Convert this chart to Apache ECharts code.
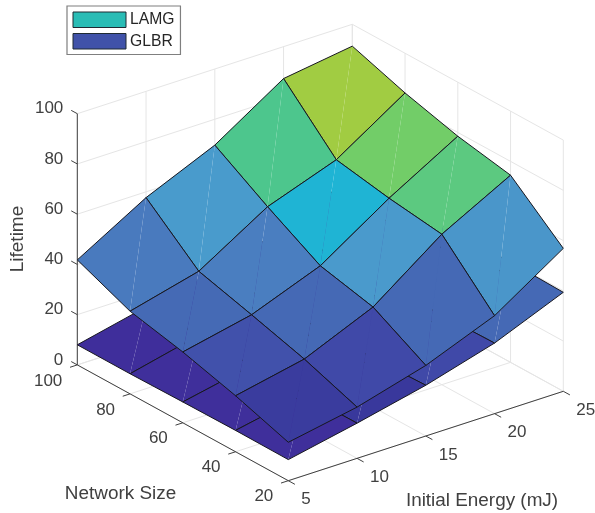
<!DOCTYPE html>
<html>
<head>
<meta charset="utf-8">
<style>html,body{margin:0;padding:0;background:#fff}#c{width:595px;height:513px}</style>
<script src="https://cdn.jsdelivr.net/npm/echarts@6/dist/echarts.min.js"></script>
</head>
<body>
<div id="c"></div>
<script>
// ---- data ----
const energyTicks = [5, 10, 15, 20, 25];
const networkTicks = [20, 40, 60, 80, 100];
const lifetimeTicks = [0, 20, 40, 60, 80, 100];
// rows: energy index, columns: network index
const lamgE5  = [15.3, 22.3, 28.2, 32.9, 41.8];
const lamgE10 = [20.4, 28.0, 34.1, 39.9, 57.7];
const lamgE15 = [28.1, 39.8, 44.7, 56.7, 69.7];
const lamgE20 = [39.0, 59.9, 62.7, 66.5, 87.3];
const lamgE25 = [56.9, 74.5, 78.5, 84.2, 91.3];
const glbrE5  = [8.4, 8.5, 8.3, 8.0, 8.0];
const glbrE10 = [14.0, 13.9, 13.9, 14.4, 14.2];
const glbrE15 = [20.2, 19.5, 19.5, 19.5, 19.5];
const glbrE20 = [28.1, 27.7, 27.5, 27.5, 27.5];
const glbrE25 = [39.4, 39.9, 39.5, 39.5, 39.5];
const lamg = [lamgE5, lamgE10, lamgE15, lamgE20, lamgE25];
const glbr = [glbrE5, glbrE10, glbrE15, glbrE20, glbrE25];

// colour scale of the surface height (lifetime -> colour)
const colorScale = [
  [8, '#3f2e9b'], [14, '#39389c'], [20.3, '#4049a8'], [28, '#4569b5'], [34, '#4a7ec0'],
  [39.8, '#4a9acc'], [44.7, '#1fb4d4'], [56.7, '#4dc68d'], [60, '#5cc980'], [62.7, '#72cd68'], [66.5, '#a1cc42']
];
function hex(c) { return [1, 3, 5].map(k => parseInt(c.substr(k, 2), 16)); }
function colorOf(z) {
  if (z <= colorScale[0][0]) return colorScale[0][1];
  for (let k = 1; k < colorScale.length; k++) {
    if (z <= colorScale[k][0]) {
      const t = (z - colorScale[k - 1][0]) / (colorScale[k][0] - colorScale[k - 1][0]);
      const a = hex(colorScale[k - 1][1]), b = hex(colorScale[k][1]);
      return 'rgb(' + a.map((v, n) => Math.round(v + (b[n] - v) * t)).join(',') + ')';
    }
  }
  return colorScale[colorScale.length - 1][1];
}

// ---- orthographic view of the 3D box ----
function project(e, n, z) {
  return [
    288.3 + (e - 5) * 13.75 - (n - 20) * 2.6375,
    480.7 - (e - 5) * 4.47 - (n - 20) * 1.4475 - z * 2.512
  ];
}
const eMin = 5, eMax = 25, nMin = 20, nMax = 100, zMin = 0, zMax = 100;
const GRID = '#e5e5e5', AXIS = '#404040', TEXT = '#404040', FONT = '"Liberation Sans", Arial, sans-serif';

// ---- segments of the box: walls, floor, axes, ticks ----
const gridSegs = [], axisSegs = [];
energyTicks.forEach(e => {
  gridSegs.push([e, nMin, 0, e, nMax, 0]);
  gridSegs.push([e, nMax, 0, e, nMax, zMax]);
  axisSegs.push([e, nMin, 0, e, nMin - 2.5, 0]);
});
networkTicks.forEach(n => {
  gridSegs.push([eMin, n, 0, eMax, n, 0]);
  gridSegs.push([eMax, n, 0, eMax, n, zMax]);
  axisSegs.push([eMin, n, 0, eMin - 0.53, n, 0]);
});
lifetimeTicks.forEach(z => {
  gridSegs.push([eMin, nMax, z, eMax, nMax, z]);
  gridSegs.push([eMax, nMax, z, eMax, nMin, z]);
  axisSegs.push([eMin, nMax, z, eMin, nMax + 2.3, z]);
});
axisSegs.push([eMin, nMax, zMin, eMin, nMax, zMax]);
axisSegs.push([eMin, nMax, 0, eMin, nMin, 0]);
axisSegs.push([eMin, nMin, 0, eMax, nMin, 0]);

function segmentSeries(segs, color, z) {
  return {
    type: 'custom', coordinateSystem: 'cartesian2d', silent: true, z: z, clip: false,
    data: segs.map((s, k) => [k, 0]),
    renderItem: function (params, api) {
      const s = segs[params.dataIndex];
      const a = api.coord(project(s[0], s[1], s[2])), b = api.coord(project(s[3], s[4], s[5]));
      return { type: 'line', shape: { x1: a[0], y1: a[1], x2: b[0], y2: b[1] },
               style: { stroke: color, lineWidth: 1, fill: null } };
    }
  };
}

// ---- surfaces: two triangles per cell, flat colour from the cell's first corner ----
function surfaceSeries(name, rows, legendColor, z) {
  const cells = [];
  for (let s = 8; s >= 0; s--) {
    for (let i = 0; i < 4; i++) {
      const j = s - i;
      if (j >= 0 && j < 4) cells.push([i, j]);
    }
  }
  return {
    name: name, type: 'custom', coordinateSystem: 'cartesian2d', silent: true, z: z, clip: false,
    itemStyle: { color: legendColor },
    data: cells,
    renderItem: function (params, api) {
      const c = cells[params.dataIndex], i = c[0], j = c[1];
      const P = (a, b) => api.coord(project(energyTicks[a], networkTicks[b], rows[a][b]));
      const p00 = P(i, j), p10 = P(i + 1, j), p11 = P(i + 1, j + 1), p01 = P(i, j + 1);
      const fill = colorOf(rows[i][j]);
      return { type: 'group', children: [
        { type: 'polygon', shape: { points: [p00, p10, p11] }, style: { fill: fill, stroke: null } },
        { type: 'polygon', shape: { points: [p00, p11, p01] }, style: { fill: fill, stroke: null } },
        { type: 'polygon', shape: { points: [p00, p10, p11, p01] },
          style: { fill: null, stroke: '#17171f', lineWidth: 1, lineJoin: 'round' } }
      ] };
    }
  };
}

// ---- texts ----
const texts = [];
lifetimeTicks.forEach(z => { const p = project(eMin, nMax, z);
  texts.push({ t: String(z), x: p[0] - 14, y: p[1] - 5, a: 'right', s: 17 }); });
networkTicks.forEach(n => { const p = project(eMin, n, 0);
  texts.push({ t: String(n), x: p[0] - 15, y: p[1] + 16, a: 'right', s: 17 }); });
energyTicks.forEach(e => { const p = project(e, nMin, 0);
  texts.push({ t: String(e), x: p[0] + 13, y: p[1] + 19, a: 'left', s: 17 }); });
texts.push({ t: 'Network Size', x: 120.5, y: 493.7, a: 'center', s: 18.9 });
texts.push({ t: 'Initial Energy (mJ)', x: 482, y: 500.7, a: 'center', s: 18.9 });
texts.push({ t: 'Lifetime', x: 17.5, y: 239, a: 'center', s: 19, r: Math.PI / 2 });

const textSeries = {
  type: 'custom', coordinateSystem: 'cartesian2d', silent: true, z: 20, clip: false,
  data: texts.map((t, k) => [k, 0]),
  renderItem: function (params, api) {
    const t = texts[params.dataIndex];
    const p = api.coord([t.x, t.y]);
    return { type: 'text', x: p[0], y: p[1], rotation: t.r || 0,
      style: { text: t.t, fill: TEXT, font: t.s + 'px ' + FONT, align: t.a, verticalAlign: 'middle' } };
  }
};

const chart = echarts.init(document.getElementById('c'), null, { renderer: 'canvas', width: 595, height: 513 });
chart.setOption({
  animation: false,
  backgroundColor: '#ffffff',
  grid: { left: 0, right: 0, top: 0, bottom: 0 },
  xAxis: { type: 'value', min: 0, max: 595, show: false },
  yAxis: { type: 'value', min: 0, max: 513, inverse: true, show: false },
  legend: {
    left: 67, top: 6, orient: 'vertical', icon: 'rect', selectedMode: false,
    itemWidth: 53, itemHeight: 15.5, itemGap: 5, padding: [5.5, 6, 5, 5.5],
    borderColor: '#7f7f7f', borderWidth: 1.2, backgroundColor: '#fff',
    textStyle: { fontFamily: FONT, fontSize: 15.7, color: '#262626', padding: [0, 0, 0, -1] },
    data: [
      { name: 'LAMG', itemStyle: { color: '#29bcb5', borderColor: '#1f2a33', borderWidth: 1 } },
      { name: 'GLBR', itemStyle: { color: '#4052a9', borderColor: '#1f2a33', borderWidth: 1 } }
    ]
  },
  series: [
    segmentSeries(gridSegs, GRID, 1),
    segmentSeries(axisSegs, AXIS, 2),
    surfaceSeries('GLBR', glbr, '#4052a9', 3),
    surfaceSeries('LAMG', lamg, '#29bcb5', 4),
    textSeries
  ]
});
</script>
</body>
</html>
